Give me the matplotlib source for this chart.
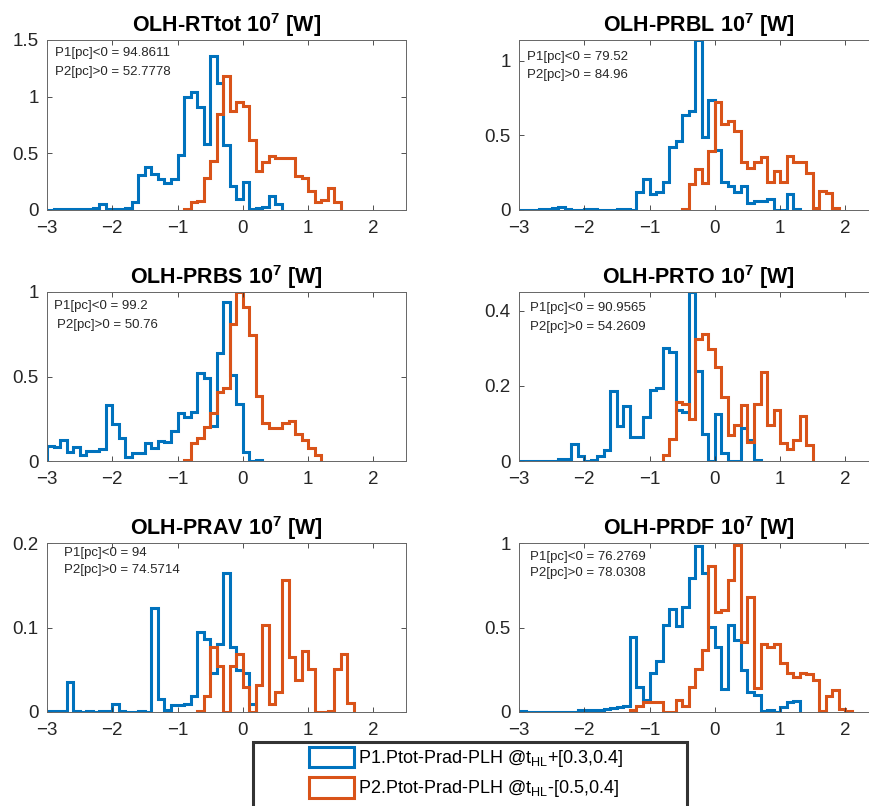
import numpy as np
import matplotlib
matplotlib.use("Agg")
import matplotlib.pyplot as plt
from matplotlib.patches import Patch, Rectangle
from matplotlib.ticker import FormatStrFormatter

plt.rcParams['font.family'] = ['Liberation Sans', 'DejaVu Sans']
plt.rcParams['mathtext.fontset'] = 'custom'
plt.rcParams['mathtext.rm'] = 'Liberation Sans'
plt.rcParams['mathtext.bf'] = 'Liberation Sans:bold'
plt.rcParams['mathtext.it'] = 'Liberation Sans:italic'

BLUE = '#0072BD'
ORANGE = '#D95319'
BIN = 0.1

# Данные гистограмм (pdf), шаг бина 0.1
titles = ['OLH-RTtot', 'OLH-PRBL', 'OLH-PRBS', 'OLH-PRTO', 'OLH-PRAV', 'OLH-PRDF']
p1_pct = ['94.8611', '79.52', '99.2', '90.9565', '94', '76.2769']
p2_pct = ['52.7778', '84.96', '50.76', '54.2609', '74.5714', '78.0308']
y_top = [1.5, 1.14, 1.0, 0.45, 0.2, 1.0]
y_ticks = [[0, 0.5, 1, 1.5], [0, 0.5, 1], [0, 0.5, 1],
           [0, 0.2, 0.4], [0, 0.1, 0.2], [0, 0.5, 1]]
x_ticks = [-3, -2, -1, 0, 1, 2]

p1_start = [-3.0, -3.0, -3.0, -3.0, -3.0, -3.0]
p2_start = [-0.9, -0.5, -0.9, -0.8, -0.7, -1.3]

rttot_p1 = [0.003, 0.01, 0.005, 0.005, 0.008, 0.01, 0.012, 0.015, 0.05, 0.01,
            0.01, 0.01, 0.02, 0.074, 0.31, 0.376, 0.32, 0.27, 0.24, 0.27,
            0.485, 1.0, 1.04, 0.91, 0.58, 1.355, 1.12, 0.577, 0.21, 0.095,
            0.25, 0.006, 0.015, 0.03, 0.12, 0.05]
rttot_p2 = [0.005, 0.074, 0.08, 0.28, 0.43, 0.85, 1.18, 0.87, 0.95, 0.92,
            0.62, 0.34, 0.42, 0.48, 0.455, 0.46, 0.46, 0.296, 0.28, 0.17,
            0.068, 0.09, 0.19, 0.068]

prbl_p1 = [0, 0, 0, 0.007, 0.007, 0.013, 0.02, 0.007, 0, 0,
           0.007, 0.004, 0, 0, 0.002, 0.01, 0.01, 0.002, 0.118, 0.207,
           0.107, 0.118, 0.19, 0.42, 0.46, 0.64, 0.665, 1.14, 0.49, 0.735,
           0.40, 0.19, 0.158, 0.118, 0.158, 0.05, 0.058, 0.058, 0.075, 0.0,
           0.0, 0.107, 0.01]
prbl_p2 = [0.01, 0.173, 0.275, 0.184, 0.395, 0.724, 0.58, 0.60, 0.53, 0.32,
           0.284, 0.32, 0.358, 0.187, 0.264, 0.19, 0.364, 0.32, 0.325, 0.247,
           0.013, 0.13, 0.113, 0.013]

prbs_p1 = [0.089, 0.085, 0.124, 0.055, 0.085, 0.035, 0.061, 0.061, 0.069, 0.33,
           0.217, 0.138, 0.026, 0.045, 0.045, 0.104, 0.079, 0.118, 0.114, 0.177,
           0.285, 0.262, 0.291, 0.518, 0.494, 0.207, 0.64, 0.94, 0.508, 0.337,
           0.051, 0.0, 0.005]
prbs_p2 = [0.005, 0.104, 0.138, 0.2, 0.285, 0.41, 0.433, 0.813, 1.0, 0.91,
           0.744, 0.386, 0.222, 0.197, 0.193, 0.222, 0.236, 0.157, 0.124, 0.079,
           0.035]

prto_p1 = [0, 0, 0, 0, 0, 0, 0.004, 0.004, 0.044, 0.013,
           0.0, 0.003, 0.013, 0.03, 0.186, 0.093, 0.146, 0.065, 0.065, 0.118,
           0.188, 0.195, 0.302, 0.289, 0.135, 0.131, 0.45, 0.239, 0.073, 0.0,
           0.124, 0.022, 0.0, 0.0, 0.087, 0.056, 0.003]
prto_p2 = [0.016, 0.058, 0.158, 0.151, 0.113, 0.326, 0.337, 0.297, 0.25, 0.171,
           0.069, 0.097, 0.149, 0.051, 0.151, 0.237, 0.096, 0.137, 0.047, 0.031,
           0.056, 0.119, 0.042]

prav_p1 = [0.001, 0.001, 0.001, 0.036, 0.001, 0.0, 0.001, 0.0, 0.001, 0.001,
           0.01, 0.001, 0.0, 0.0, 0.001, 0.0, 0.123, 0.015, 0.002, 0.008,
           0.008, 0.01, 0.019, 0.095, 0.086, 0.046, 0.08, 0.165, 0.077, 0.05,
           0.046, 0.01]
prav_p2 = [0.001, 0.019, 0.077, 0.054, 0.0, 0.054, 0.069, 0.03, 0.0, 0.032,
           0.103, 0.009, 0.024, 0.156, 0.065, 0.038, 0.072, 0.051, 0.0, 0.0,
           0.001, 0.051, 0.069, 0.011]

prdf_p1 = [0.004, 0, 0, 0, 0, 0, 0, 0, 0, 0.014,
           0.01, 0.014, 0.014, 0.02, 0.024, 0.03, 0.034, 0.445, 0.149, 0.07,
           0.23, 0.3, 0.515, 0.61, 0.51, 0.62, 0.79, 0.98, 0.82, 0.505,
           0.386, 0.139, 0.515, 0.426, 0.25, 0.12, 0.1, 0.006, 0.01, 0.0,
           0.03, 0.06, 0.065]
prdf_p2 = [0.014, 0.035, 0.06, 0.06, 0.06, 0.0, 0.0, 0.073, 0.036, 0.149,
           0.257, 0.366, 0.865, 0.594, 0.604, 0.78, 0.99, 0.416, 0.68, 0.143,
           0.402, 0.386, 0.402, 0.287, 0.232, 0.21, 0.228, 0.224, 0.188, 0.004,
           0.093, 0.129, 0.02, 0.005]

p1_series = [rttot_p1, prbl_p1, prbs_p1, prto_p1, prav_p1, prdf_p1]
p2_series = [rttot_p2, prbl_p2, prbs_p2, prto_p2, prav_p2, prdf_p2]

legend_labels = [r'P1.Ptot-Prad-PLH @$\mathregular{t_{HL}}$+[0.3,0.4]',
                 r'P2.Ptot-Prad-PLH @$\mathregular{t_{HL}}$-[0.5,0.4]']

# Раскладка в пикселях (как в исходной картинке, правый столбец обрезан)
W, H = 869, 806
col_x = [47, 519]
row_y = [(40, 210), (292, 461), (543, 712)]
ax_w = 359
txt_off = [(8, 13, 8, 32), (8, 17, 8, 35), (7, 14, 10, 33),
           (11, 16, 11, 35), (17, 10, 17, 27), (11, 14, 11, 30)]


def hist_edges(start, vals):
    return start + BIN * np.arange(len(vals) + 1)


fig = plt.figure(figsize=(W / 100, H / 100), dpi=100)

for i in range(6):
    r, c = divmod(i, 2)
    top, bot = row_y[r]
    ax = fig.add_axes([col_x[c] / W, 1 - bot / H, ax_w / W, (bot - top) / H])

    v1 = np.array(p1_series[i])
    v2 = np.array(p2_series[i])
    ax.stairs(v1, hist_edges(p1_start[i], v1), baseline=0, color=BLUE, lw=2.2)
    ax.stairs(v2, hist_edges(p2_start[i], v2), baseline=0, color=ORANGE, lw=2.2)

    ax.set_xlim(-3, 2.5)
    ax.set_ylim(0, y_top[i])
    ax.set_xticks(x_ticks)
    ax.set_yticks(y_ticks[i])
    ax.yaxis.set_major_formatter(FormatStrFormatter('%g'))
    ax.tick_params(direction='in', top=True, right=True, length=3.5, width=0.6,
                   labelsize=13.5, colors='#333333', labelcolor='#262626')
    ax.tick_params(axis='x', pad=7.5)
    ax.tick_params(axis='y', pad=6)
    for sp in ax.spines.values():
        sp.set_color('#666666')
        sp.set_linewidth(0.7)

    ax.set_title(titles[i] + r' $\mathbf{10^{7}}$ [W]', fontsize=15.5,
                 fontweight='bold', pad=6)

    h = bot - top
    dx1, dy1, dx2, dy2 = txt_off[i]
    ax.text(dx1 / ax_w, 1 - dy1 / h, f'P1[pc]<0 = {p1_pct[i]}', transform=ax.transAxes,
            fontsize=9.5, va='center', ha='left', color='#262626')
    ax.text(dx2 / ax_w, 1 - dy2 / h, f'P2[pc]>0 = {p2_pct[i]}', transform=ax.transAxes,
            fontsize=9.5, va='center', ha='left', color='#262626')

# Легенда: рамка снизу обрезана краем рисунка
frame = Rectangle((253 / W, 1 - 830 / H), (687 - 253) / W, (830 - 742) / H,
                  transform=fig.transFigure, facecolor='white',
                  edgecolor='#333333', linewidth=2.2, zorder=5)
fig.add_artist(frame)
handles = [Patch(facecolor='white', edgecolor=BLUE, linewidth=2.2),
           Patch(facecolor='white', edgecolor=ORANGE, linewidth=2.2)]
leg = fig.legend(handles, legend_labels, loc='upper left',
                 bbox_to_anchor=(309 / W, 1 - 747 / H), frameon=False,
                 borderpad=0, borderaxespad=0, handlelength=2.5, handleheight=1.35,
                 handletextpad=0.2, labelspacing=0.45, fontsize=13)
leg.set_zorder(6)

fig.savefig('out.png', dpi=100)
